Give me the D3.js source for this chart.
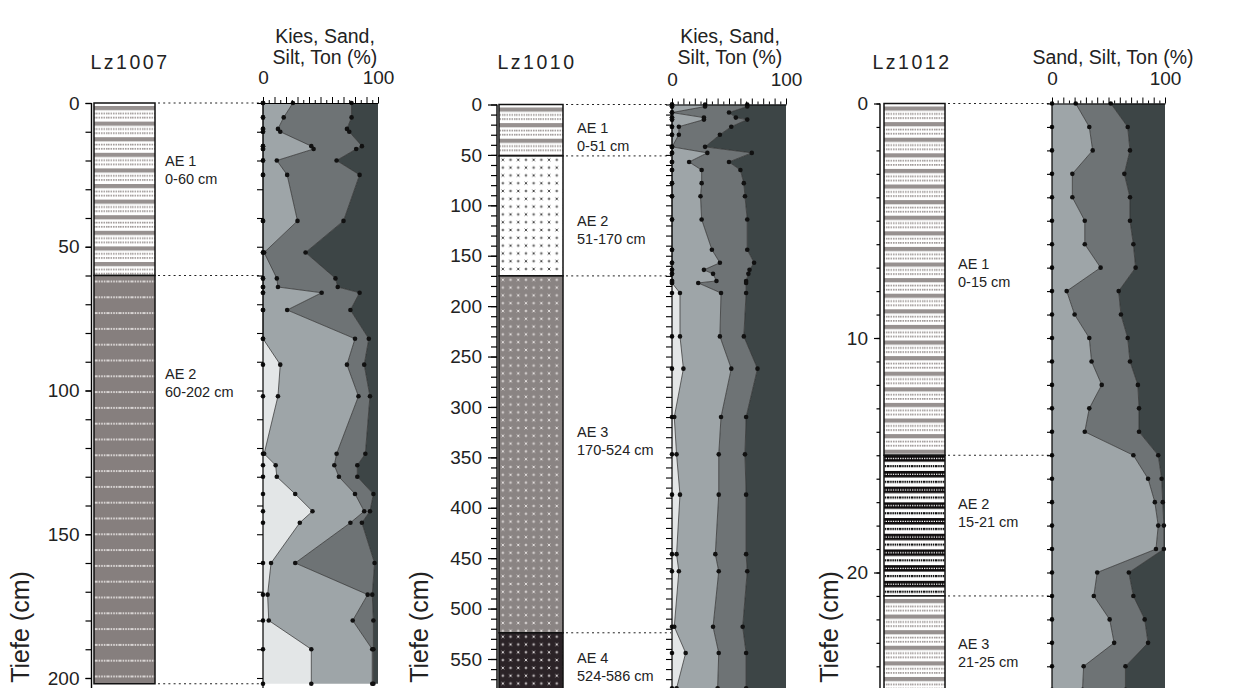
<!DOCTYPE html>
<html><head><meta charset="utf-8">
<script src="https://cdn.jsdelivr.net/npm/d3@7"></script>
<style>
html,body{margin:0;padding:0;background:#fff;}
svg{display:block;font-family:"Liberation Sans",Arial,sans-serif;}
</style></head><body>
<svg id="chart" width="1233" height="688"></svg>
<script>
// ---- grain-size fractions ----
const fractionKeys = ["Kies", "Sand", "Silt", "Ton"];
const fractionColors = {Kies: "#e3e6e7", Sand: "#9ea5a8", Silt: "#6e7375", Ton: "#3d4546"};

// ---- Lz1007 ----
const lz1007Depth = [0,5,9,10,15,16,20,25,41,52,61,64,66,72,82,91,102,122,126,130,136,142,146,160,171,180,190,202];
const lz1007Kies  = [0,0,0,0,0,0,0,0,0,0,0,0,0,0,0,15,13,1,11,12,28,43,32,7,4,5,42,42];
const lz1007Sand  = [26,18,13,15,42,44,12,21,30,1,12,13,51,21,80,58,70,63,51,54,52,45,44,21,87,73,53,53];
const lz1007Silt  = [51,59,60,60,44,37,52,63,40,36,51,52,33,55,12,15,10,25,20,16,16,5,10,69,4,18,1,1];
const lz1007Ton   = [23,23,27,25,14,19,36,16,30,63,37,35,16,24,8,12,7,11,18,18,4,7,14,3,5,4,4,4];
const lz1007Units = [
  {name: "AE 1", range: "0-60 cm", top: 0, bottom: 60, fill: "bands"},
  {name: "AE 2", range: "60-202 cm", top: 60, bottom: 202, fill: "grayLines"}
];
const lz1007DepthTicks = [0, 50, 100, 150, 200];

// ---- Lz1010 ----
const lz1010Depth = [0,2,8,13,15,22,30,42,48,57,65,78,91,114,144,157,164,168,175,177,187,230,262,310,347,387,446,463,518,544,579];
const lz1010Kies  = [0,0,0,0,0,0,0,0,0,0,0,0,0,0,0,0,0,0,0,0,7,7,10,2,4,7,4,6,2,12,4];
const lz1010Sand  = [29,29,0,28,28,6,6,0,31,15,26,26,25,26,35,42,28,36,39,23,36,35,42,41,37,34,34,35,34,29,36];
const lz1010Silt  = [37,37,50,28,38,46,36,29,39,35,34,37,39,40,31,30,40,31,26,42,22,21,23,22,23,24,27,25,26,24,25];
const lz1010Ton   = [34,34,50,44,34,48,58,71,30,50,40,37,36,34,34,28,32,33,35,35,35,37,25,35,36,35,35,34,38,35,35];
const lz1010Units = [
  {name: "AE 1", range: "0-51 cm", top: 0, bottom: 51, fill: "bands"},
  {name: "AE 2", range: "51-170 cm", top: 51, bottom: 170, fill: "marksLight"},
  {name: "AE 3", range: "170-524 cm", top: 170, bottom: 524, fill: "marksGray"},
  {name: "AE 4", range: "524-586 cm", top: 524, bottom: 586, fill: "marksDark"}
];
const lz1010DepthTicks = [0,50,100,150,200,250,300,350,400,450,500,550];

// ---- Lz1012 ----
const lz1012Depth = [0,1,2,3,4,5,6,7,8,9,10,11,12,13,14,15,16,17,18,19,20,21,22,23,24,25];
const lz1012Sand  = [21,33,36,18,18,29,29,43,13,20,33,35,44,33,29,72,85,91,94,92,40,37,51,55,28,27];
const lz1012Silt  = [31,34,33,46,51,40,43,31,46,41,34,34,32,44,48,22,12,7,5,7,28,35,31,30,37,38];
const lz1012Ton   = [48,33,31,36,31,31,28,26,41,39,33,31,24,23,23,6,3,2,1,1,32,28,18,15,35,35];
const lz1012Units = [
  {name: "AE 1", range: "0-15 cm", top: 0, bottom: 15, fill: "bands"},
  {name: "AE 2", range: "15-21 cm", top: 15, bottom: 21, fill: "blackBands"},
  {name: "AE 3", range: "21-25 cm", top: 21, bottom: 25, fill: "bands"}
];
const lz1012DepthTicks = [0, 10, 20];

const percentTicks = [0, 100];

// ---- page layout for the three cores ----
const cores = [
  {
    title: "Lz1007", titleX: 130,
    depth: lz1007Depth, values: {Kies: lz1007Kies, Sand: lz1007Sand, Silt: lz1007Silt, Ton: lz1007Ton},
    units: lz1007Units, majorTicks: lz1007DepthTicks, minorStep: 10,
    yDomain: [0, 200], yRange: [103, 678],
    axisX: 91.5, colX: [94, 155], majorLen: 6, minorLen: 6,
    unitLabelX: 165, unitLabelY: [166, 379],
    panelX: [263, 378], panelTickLen: 6,
    header: ["Kies, Sand,", "Silt, Ton (%)"], headerX: 325,
    tiefeX: 29
  },
  {
    title: "Lz1010", titleX: 537,
    depth: lz1010Depth, values: {Kies: lz1010Kies, Sand: lz1010Sand, Silt: lz1010Silt, Ton: lz1010Ton},
    units: lz1010Units, majorTicks: lz1010DepthTicks, minorStep: 10,
    yDomain: [0, 550], yRange: [104.5, 659],
    axisX: 497, colX: [499, 563], majorLen: 9, minorLen: 6,
    unitLabelX: 577, unitLabelY: [133, 226, 437, 663],
    panelX: [672, 786], panelTickLen: 6,
    header: ["Kies, Sand,", "Silt, Ton (%)"], headerX: 730,
    tiefeX: 428
  },
  {
    title: "Lz1012", titleX: 912,
    depth: lz1012Depth, values: {Sand: lz1012Sand, Silt: lz1012Silt, Ton: lz1012Ton},
    units: lz1012Units, majorTicks: lz1012DepthTicks, minorStep: 1,
    yDomain: [0, 20], yRange: [103.5, 572.5],
    axisX: 880, colX: [884, 945], majorLen: 6, minorLen: 3.5,
    unitLabelX: 958, unitLabelY: [269, 509, 649],
    panelX: [1052, 1165], panelTickLen: 5,
    header: ["Sand, Silt, Ton (%)"], headerX: 1113,
    tiefeX: 838
  }
];

const svg = d3.select("#chart");
const defs = svg.append("defs");
const BOTTOM = 688;

// ---- lithology fill patterns ----
function makePattern(kind, id, y0) {
  if (kind === "bands") {
    const h = 15.6, w = 12;
    const p = defs.append("pattern").attr("id", id).attr("patternUnits", "userSpaceOnUse")
      .attr("width", w).attr("height", h).attr("y", y0 + 3);
    p.append("rect").attr("width", w).attr("height", h).attr("fill", "#fff");
    p.append("rect").attr("width", w).attr("height", 4.2).attr("fill", "#979190");
    [7.4, 11.6].forEach(yy => p.append("line").attr("x1", 0).attr("x2", w).attr("y1", yy).attr("y2", yy)
      .attr("stroke", "#a19b9a").attr("stroke-width", 1.6).attr("stroke-dasharray", "1.6 0.9"));
  } else if (kind === "grayLines") {
    const h = 15.8, w = 12;
    const p = defs.append("pattern").attr("id", id).attr("patternUnits", "userSpaceOnUse")
      .attr("width", w).attr("height", h).attr("y", y0 + 5);
    p.append("rect").attr("width", w).attr("height", h).attr("fill", "#867f7e");
    p.append("line").attr("x1", 0).attr("x2", w).attr("y1", 1).attr("y2", 1)
      .attr("stroke", "#f4f0ef").attr("stroke-width", 1.4).attr("stroke-dasharray", "1.6 1");
  } else if (kind === "blackBands") {
    const h = 15.7, w = 12;
    const p = defs.append("pattern").attr("id", id).attr("patternUnits", "userSpaceOnUse")
      .attr("width", w).attr("height", h).attr("y", y0);
    p.append("rect").attr("width", w).attr("height", h).attr("fill", "#fff");
    p.append("rect").attr("width", w).attr("height", 6.5).attr("fill", "#0f0c0d");
    p.append("line").attr("x1", 0).attr("x2", w).attr("y1", 3.3).attr("y2", 3.3)
      .attr("stroke", "#fff").attr("stroke-width", 1.1).attr("stroke-dasharray", "1.4 1");
    p.append("line").attr("x1", 0).attr("x2", w).attr("y1", 11).attr("y2", 11)
      .attr("stroke", "#111").attr("stroke-width", 2.2).attr("stroke-dasharray", "1.5 0.7");
  } else {
    const bg = {marksLight: "#ffffff", marksGray: "#8a8483", marksDark: "#2b2327"}[kind];
    const fg = {marksLight: "#3a3a3a", marksGray: "#e9e5e4", marksDark: "#e6e2e3"}[kind];
    const w = 15.4, h = 15.6, s = 1.3;
    const p = defs.append("pattern").attr("id", id).attr("patternUnits", "userSpaceOnUse")
      .attr("width", w).attr("height", h).attr("x", 499).attr("y", y0);
    p.append("rect").attr("width", w).attr("height", h).attr("fill", bg);
    const marks = [[3.85, 3.9, "x"], [11.55, 3.9, "+"], [3.85, 11.7, "+"], [11.55, 11.7, "x"]];
    marks.forEach(([cx, cy, t]) => {
      const d = t === "x"
        ? `M${cx - s},${cy - s}L${cx + s},${cy + s}M${cx - s},${cy + s}L${cx + s},${cy - s}`
        : `M${cx - s},${cy}L${cx + s},${cy}M${cx},${cy - s}L${cx},${cy + s}`;
      p.append("path").attr("d", d).attr("stroke", fg).attr("stroke-width", 0.9).attr("fill", "none");
    });
  }
}

cores.forEach((core, ci) => {
  const y = d3.scaleLinear().domain(core.yDomain).range(core.yRange);
  const x = d3.scaleLinear().domain([0, 100]).range(core.panelX);
  const g = svg.append("g");
  const maxDepth = y.invert(BOTTOM);

  // title
  g.append("text").attr("x", core.titleX).attr("y", 69).attr("text-anchor", "middle")
    .attr("font-size", 19.5).attr("letter-spacing", 2.5).attr("fill", "#222").text(core.title);

  // depth axis beside the column
  const axisG = g.append("g").attr("transform", `translate(${core.axisX},0)`);
  const minor = d3.range(core.yDomain[0], maxDepth, core.minorStep);
  axisG.call(d3.axisLeft(y).tickValues(minor).tickSize(core.minorLen).tickFormat("").tickSizeOuter(0));
  axisG.select(".domain").remove();
  const majG = g.append("g").attr("transform", `translate(${core.axisX},0)`);
  majG.call(d3.axisLeft(y).tickValues(core.majorTicks).tickSize(core.majorLen).tickPadding(6)
    .tickFormat(d3.format("d")).tickSizeOuter(0));
  majG.select(".domain").remove();
  majG.selectAll("text").attr("font-size", 19).attr("fill", "#222").attr("font-family", "Liberation Sans, Arial, sans-serif");
  g.selectAll(".tick line").attr("stroke", "#000").attr("stroke-width", 1.2);
  g.append("line").attr("x1", core.axisX).attr("x2", core.axisX)
    .attr("y1", y(0)).attr("y2", BOTTOM).attr("stroke", "#000").attr("stroke-width", 1.4);

  // lithology column
  core.units.forEach((u, ui) => {
    const pid = `p${ci}_${ui}`;
    makePattern(u.fill, pid, y(u.top));
    const y0 = y(u.top), y1 = Math.min(y(u.bottom), BOTTOM + 2);
    g.append("rect").attr("x", core.colX[0]).attr("y", y0)
      .attr("width", core.colX[1] - core.colX[0]).attr("height", y1 - y0)
      .attr("fill", `url(#${pid})`).attr("stroke", "#111").attr("stroke-width", 1.5);
    g.append("text").attr("x", core.unitLabelX).attr("y", core.unitLabelY[ui])
      .attr("font-size", 14.5).attr("fill", "#222").text(u.name);
    g.append("text").attr("x", core.unitLabelX).attr("y", core.unitLabelY[ui] + 17.5)
      .attr("font-size", 14.5).attr("fill", "#222").text(u.range);
    // dotted boundary line linking column and grain-size panel
    if (y(u.top) < BOTTOM) {
      g.append("line").attr("x1", core.colX[1] + 3).attr("x2", core.panelX[0] - 1)
        .attr("y1", y(u.top)).attr("y2", y(u.top))
        .attr("stroke", "#222").attr("stroke-width", 1).attr("stroke-dasharray", "2 3.2");
    }
    if (ui === core.units.length - 1 && y(u.bottom) < BOTTOM + 1) {
      g.append("line").attr("x1", core.colX[1] + 3).attr("x2", core.panelX[0] - 1)
        .attr("y1", y(u.bottom)).attr("y2", y(u.bottom))
        .attr("stroke", "#222").attr("stroke-width", 1).attr("stroke-dasharray", "2 3.2");
    }
  });

  // "Tiefe (cm)" label
  g.append("text").attr("transform", `translate(${core.tiefeX},627) rotate(-90)`)
    .attr("text-anchor", "middle").attr("font-size", 25).attr("fill", "#222").text("Tiefe (cm)");

  // grain-size panel: stacked areas
  const keys = fractionKeys.filter(k => core.values[k]);
  const rows = core.depth.map((d, i) => {
    const r = {depth: d};
    keys.forEach(k => r[k] = core.values[k][i]);
    return r;
  });
  const series = d3.stack().keys(keys)(rows);
  const area = d3.area().y(d => y(d.data.depth)).x0(d => x(d[0])).x1(d => x(d[1]));
  g.append("g").selectAll("path").data(series).join("path")
    .attr("d", area).attr("fill", s => fractionColors[s.key]);
  const edge = d3.line().y(d => y(d.data.depth)).x(d => x(d[1]));
  g.append("g").selectAll("path").data(series.slice(0, -1)).join("path")
    .attr("d", edge).attr("fill", "none").attr("stroke", "#2b2b2b").attr("stroke-width", 0.7);

  // sample dots on every boundary
  const dots = [];
  rows.forEach(r => dots.push({depth: r.depth, v: 0}));
  series.slice(0, -1).forEach(s => s.forEach(d => dots.push({depth: d.data.depth, v: d[1]})));
  g.append("g").selectAll("circle").data(dots).join("circle")
    .attr("cx", d => x(d.v)).attr("cy", d => y(d.depth)).attr("r", 2.3).attr("fill", "#111");

  // left depth ticks of the panel
  const pAxis = g.append("g").attr("transform", `translate(${core.panelX[0]},0)`);
  pAxis.call(d3.axisLeft(y).tickValues(minor).tickSize(core.panelTickLen).tickFormat("").tickSizeOuter(0));
  pAxis.select(".domain").remove();
  pAxis.selectAll("line").attr("stroke", "#000").attr("stroke-width", 1.1);
  g.append("line").attr("x1", core.panelX[0]).attr("x2", core.panelX[0])
    .attr("y1", y(0)).attr("y2", BOTTOM).attr("stroke", "#000").attr("stroke-width", 1.2);

  // percent axis on top
  const topY = y(0);
  const tMinor = g.append("g").attr("transform", `translate(0,${topY})`);
  tMinor.call(d3.axisTop(x).tickValues(d3.range(5, 100, 10)).tickSize(3).tickFormat("").tickSizeOuter(0));
  tMinor.select(".domain").remove();
  const tMajor = g.append("g").attr("transform", `translate(0,${topY})`);
  tMajor.call(d3.axisTop(x).tickValues(d3.range(0, 101, 10)).tickSize(6).tickFormat("").tickSizeOuter(0));
  tMajor.select(".domain").attr("stroke", "#000").attr("stroke-width", 1.2);
  g.selectAll("g.tick line").attr("stroke", "#000");
  const tLab = g.append("g").attr("transform", `translate(0,${topY})`);
  tLab.call(d3.axisTop(x).tickValues(percentTicks).tickSize(0).tickPadding(19).tickFormat(d3.format("d")));
  tLab.select(".domain").remove();
  tLab.selectAll("text").attr("font-size", 19).attr("fill", "#222").attr("font-family", "Liberation Sans, Arial, sans-serif");

  // panel header
  core.header.forEach((line, li) => {
    g.append("text").attr("x", core.headerX).attr("y", core.header.length === 2 ? 43 + li * 21 : 64)
      .attr("text-anchor", "middle").attr("font-size", 19.5).attr("fill", "#222").text(line);
  });
});
</script>
</body></html>
